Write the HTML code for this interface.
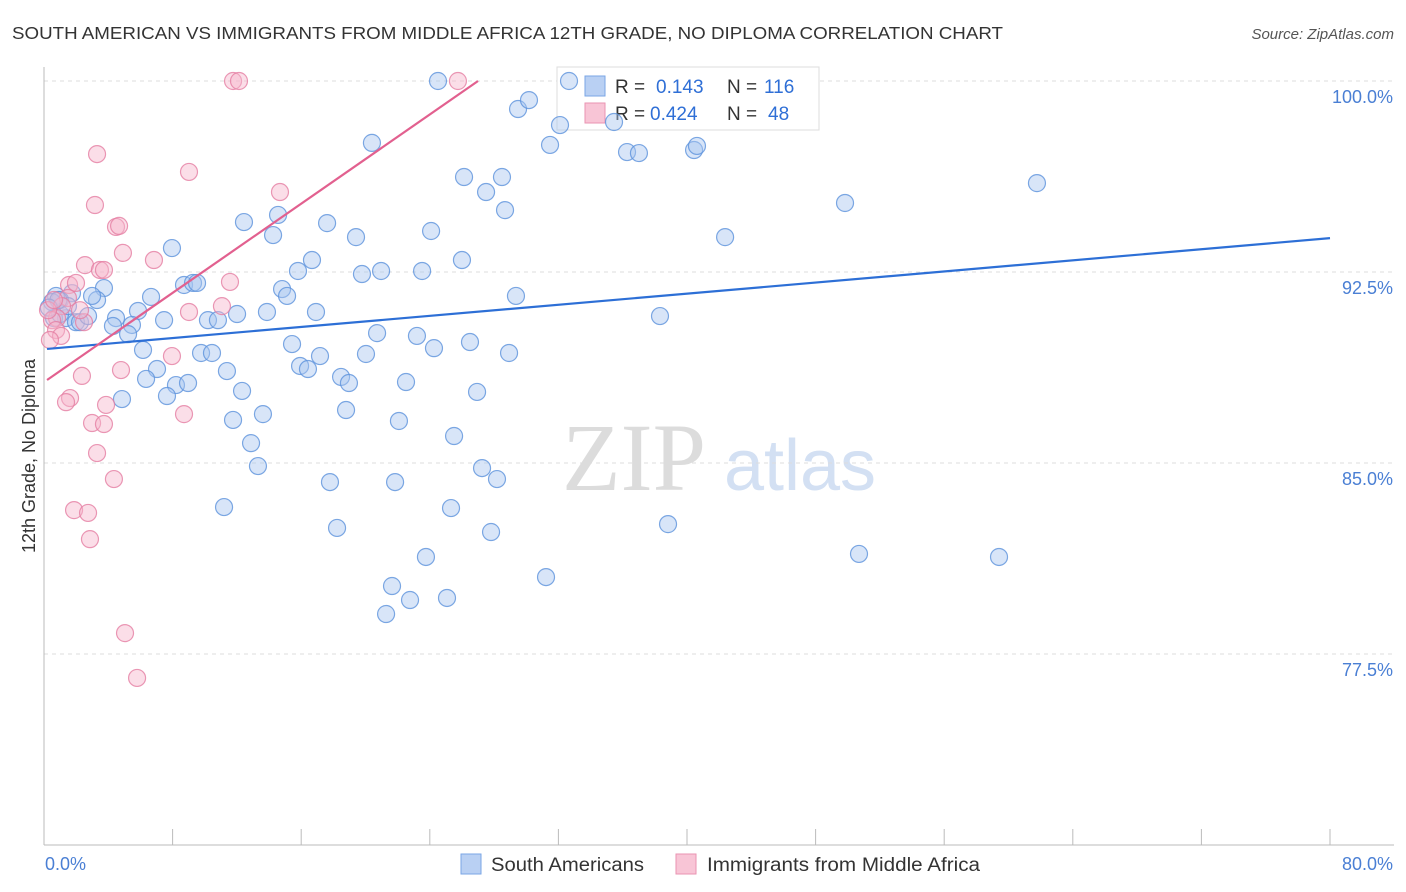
<!DOCTYPE html>
<html><head><meta charset="utf-8">
<style>
body{margin:0;background:#fff;font-family:"Liberation Sans",sans-serif;}
svg{display:block}
</style></head>
<body>
<svg id="chart" width="1406" height="892">
<text x="12" y="39" font-size="17.5" fill="#333" textLength="991" lengthAdjust="spacingAndGlyphs">SOUTH AMERICAN VS IMMIGRANTS FROM MIDDLE AFRICA 12TH GRADE, NO DIPLOMA CORRELATION CHART</text>
<text x="1394" y="39" font-size="15" fill="#555" text-anchor="end" font-style="italic">Source: ZipAtlas.com</text>
<g>
<text x="634" y="490" font-size="96" fill="#dcdcdc" font-family="Liberation Serif,serif" text-anchor="middle">ZIP</text>
<text x="800" y="490" font-size="72" fill="#d3e0f3" text-anchor="middle">atlas</text>
</g>
<g id="grid"></g>
<g id="axes"></g>
<g>
<rect x="557" y="67" width="262" height="63" fill="#fff" stroke="#ddd"/>
<rect x="585" y="76" width="20" height="20" fill="#b9d0f3" stroke="#7aa6e6"/>
<rect x="585" y="103" width="20" height="20" fill="#f8c5d6" stroke="#ea93b2"/>
<text x="615" y="93" font-size="19" fill="#333">R = </text><text x="656" y="93" font-size="19" fill="#2f6fd6">0.143</text>
<text x="727" y="93" font-size="19" fill="#333">N = </text><text x="764" y="93" font-size="19" fill="#2f6fd6">116</text>
<text x="615" y="120" font-size="19" fill="#333">R = </text><text x="650" y="120" font-size="19" fill="#2f6fd6">0.424</text>
<text x="727" y="120" font-size="19" fill="#333">N = </text><text x="768" y="120" font-size="19" fill="#2f6fd6">48</text>
</g>
<g id="marks"></g>
<g id="lines"></g>
<text transform="translate(35,456) rotate(-90)" font-size="18" fill="#333" text-anchor="middle">12th Grade, No Diploma</text>
<text x="45" y="870" font-size="18" fill="#4a7fd4">0.0%</text>
<text x="1393" y="870" font-size="18" fill="#4a7fd4" text-anchor="end">80.0%</text>
<g>
<rect x="461" y="854" width="20" height="20" fill="#b9d0f3" stroke="#7aa6e6"/>
<text x="491" y="871" font-size="19" fill="#333" textLength="153" lengthAdjust="spacingAndGlyphs">South Americans</text>
</g>
<g>
<rect x="676" y="854" width="20" height="20" fill="#f8c5d6" stroke="#ea93b2"/>
<text x="707" y="871" font-size="19" fill="#333" textLength="273" lengthAdjust="spacingAndGlyphs">Immigrants from Middle Africa</text>
</g>
</svg>
<script>
const yTicks=[100.0,92.5,85.0,77.5];
const yTickLabels=["100.0%","92.5%","85.0%","77.5%"];
const xTicks=[0,8,16,24,32,40,48,56,64,72,80];
const blueX=[32.66,24.51,29.49,30.17,32.10,35.46,31.48,20.40,36.27,37.01,40.44,40.62,61.77,26.13,28.49,27.50,28.68,49.83,12.44,14.56,17.61,14.25,19.41,24.08,42.37,7.96,16.67,15.80,19.78,20.97,23.52,26.00,8.71,9.27,9.52,14.81,15.12,6.66,3.73,3.30,2.99,1.74,1.00,0.75,0.50,5.85,7.47,10.20,10.82,12.01,13.87,16.92,29.36,38.32,4.48,4.29,5.47,5.23,20.72,23.20,15.43,24.26,26.50,28.93,6.16,9.77,10.45,17.17,20.03,15.93,16.42,7.03,11.38,6.35,8.21,8.96,18.48,18.97,22.52,26.94,12.32,7.65,4.85,13.62,11.76,18.79,22.08,25.51,12.88,13.31,27.25,28.18,17.79,21.84,11.20,25.32,18.23,27.81,38.82,50.70,59.41,23.76,31.23,21.65,22.77,25.07,21.28,1.37,1.99,2.24,0.62,1.00,1.49,2.74,0.90,0.30];
const blueY=[100.0,100.0,98.90,99.25,98.27,98.39,97.49,97.57,97.21,97.17,97.29,97.45,95.99,96.23,96.23,95.64,94.93,95.21,94.46,94.74,94.42,93.95,93.87,94.11,93.87,93.44,92.97,92.54,92.42,92.54,92.54,92.97,91.99,92.07,92.07,91.83,91.56,91.52,91.87,91.40,91.56,91.67,91.40,91.56,91.32,90.97,90.61,90.61,90.61,90.85,90.93,90.93,91.56,90.77,90.69,90.38,90.42,90.06,90.10,89.99,89.67,89.51,89.75,89.32,89.44,89.32,89.32,89.20,89.28,88.81,88.69,88.69,88.61,88.30,88.06,88.14,88.38,88.14,88.18,87.79,87.83,87.63,87.51,86.92,86.69,87.08,86.65,86.06,85.78,84.88,84.80,84.37,84.25,84.25,83.27,83.23,82.45,82.29,82.60,81.43,81.31,81.31,80.52,80.17,79.62,79.70,79.07,90.69,90.53,90.53,90.69,90.85,91.16,90.77,91.40,91.10];
const pinkX=[11.76,12.13,25.75,3.30,9.02,14.68,3.17,4.48,4.67,4.91,6.84,2.55,3.48,3.73,11.57,1.56,1.99,1.49,1.12,11.07,9.02,0.81,0.50,2.49,0.75,1.06,0.37,7.96,4.79,2.36,1.62,1.37,3.86,2.99,3.73,8.71,3.30,4.35,1.87,2.74,2.86,5.04,5.79,0.25,2.24,0.62];
const pinkY=[100.0,100.0,100.0,97.13,96.43,95.64,95.13,94.27,94.31,93.25,92.97,92.77,92.58,92.58,92.11,91.99,92.07,91.48,91.16,91.16,90.93,90.69,90.61,90.53,90.22,89.99,89.83,89.20,88.65,88.42,87.55,87.39,87.28,86.57,86.53,86.92,85.39,84.37,83.15,83.04,82.01,78.32,76.56,91.00,91.00,91.40];
const blueTrend=[[0.19,89.48],[80,93.83]];
const pinkTrend=[[0.19,88.26],[27.0,100.0]];

const NS="http://www.w3.org/2000/svg";
const X0=44,X1=1330,Y100=81,PX75=191/7.5,YB=845;
function sx(v){return X0+v/80*(X1-X0);}
function sy(v){return Y100+(100-v)*PX75;}
function mk(tag,attrs,parent){const e=document.createElementNS(NS,tag);for(const k in attrs)e.setAttribute(k,attrs[k]);parent.appendChild(e);return e;}
const grid=document.getElementById('grid'),axes=document.getElementById('axes'),marks=document.getElementById('marks'),lines=document.getElementById('lines');
yTicks.forEach((t,i)=>{
  const l=mk('line',{x1:X0,x2:1394,y1:sy(t),y2:sy(t),stroke:'#ddd','stroke-dasharray':'4,4'},grid);
  
  
  const tx=mk('text',{x:1393,y:sy(t)+22,'font-size':18,fill:'#4a7fd4','text-anchor':'end'},grid);
  tx.textContent=yTickLabels[i];
  
  
});
const ax=mk('line',{x1:X0,x2:1394,y1:YB,y2:YB,stroke:'#bbb'},axes);


const ay=mk('line',{x1:X0,x2:X0,y1:67,y2:YB,stroke:'#bbb'},axes);


xTicks.forEach(t=>{
  const l=mk('line',{x1:sx(t),x2:sx(t),y1:829,y2:YB,stroke:'#bbb'},axes);
  
  
});
function dots(xs,ys,fill,stroke,name){
  xs.forEach((x,i)=>{
    const c=mk('circle',{cx:sx(x),cy:sy(ys[i]),r:8.5,fill:fill,'fill-opacity':0.45,stroke:stroke,'stroke-width':1.2,'stroke-opacity':0.8},marks);
    
    
  });
}
dots(blueX,blueY,'#a9c6f0','#5d92dc','south-american-point');
dots(pinkX,pinkY,'#f6b6cb','#e57ea3','middle-africa-point');
const bl=mk('line',{x1:sx(blueTrend[0][0]),y1:sy(blueTrend[0][1]),x2:sx(blueTrend[1][0]),y2:sy(blueTrend[1][1]),stroke:'#2d6fd6','stroke-width':2.2},lines);


const pl=mk('line',{x1:sx(pinkTrend[0][0]),y1:sy(pinkTrend[0][1]),x2:sx(pinkTrend[1][0]),y2:sy(pinkTrend[1][1]),stroke:'#e2608f','stroke-width':2.2},lines);


</script>
</body></html>
